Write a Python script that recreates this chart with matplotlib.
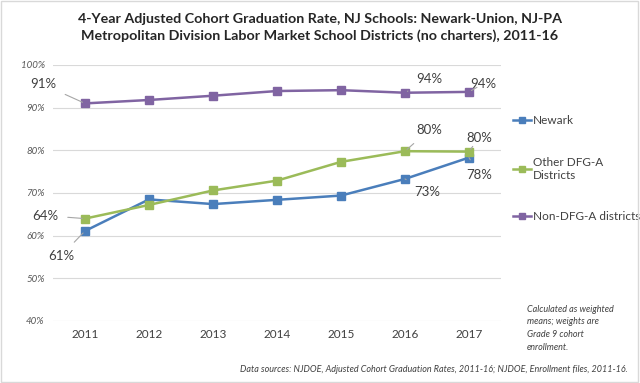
import matplotlib.pyplot as plt
from matplotlib.patches import Rectangle

# --- DATA ---
years = [2011, 2012, 2013, 2014, 2015, 2016, 2017]
newark = [61.1, 68.5, 67.4, 68.4, 69.4, 73.3, 78.3]
other_dfg_a = [64.0, 67.2, 70.6, 72.9, 77.3, 79.8, 79.7]
non_dfg_a = [91.0, 91.8, 92.8, 93.9, 94.1, 93.5, 93.7]

series_names = ['Newark', 'Other DFG-A\nDistricts', 'Non-DFG-A districts']
series_values = [newark, other_dfg_a, non_dfg_a]
colors = ['#4A7EBB', '#9BBB59', '#8064A2']

# labelled points: (series index, year index, text, offset in pixels)
labels = [
    (2, 0, '91%', (-42, 19)),
    (1, 0, '64%', (-40, 3)),
    (0, 0, '61%', (-24, -25)),
    (2, 5, '94%', (24, 14)),
    (2, 6, '94%', (14, 8)),
    (1, 5, '80%', (24, 21)),
    (1, 6, '80%', (10, 14)),
    (0, 5, '73%', (22, -13)),
    (0, 6, '78%', (10, -17)),
]

plt.rcParams['font.family'] = ['Lato', 'DejaVu Sans']

fig = plt.figure(figsize=(6.4, 3.83), dpi=100)
ax = fig.add_axes([53 / 640, 1 - 321 / 383, 448 / 640, 256 / 383])

for name, vals, c in zip(series_names, series_values, colors):
    ax.plot(years, vals, color=c, lw=1.8, marker='s', markersize=6, label=name)

for si, yi, txt, off in labels:
    ax.annotate(txt, (years[yi], series_values[si][yi]), xytext=off,
                textcoords='offset pixels', fontsize=9.5, color='#404040',
                ha='center', va='center',
                arrowprops=dict(arrowstyle='-', color='#a6a6a6', lw=0.8,
                                shrinkA=5, shrinkB=2))

ax.set_xlim(2010.5, 2017.5)
ax.set_ylim(40, 100)
ax.set_xticks(years)
ax.set_xticklabels([str(y) for y in years], fontsize=8.5, color='#404040')
ax.set_yticks(range(40, 101, 10))
ax.set_yticklabels([f'{v}%' for v in range(40, 101, 10)], fontsize=7,
                   style='italic', color='#595959')
ax.tick_params(length=0, pad=6)
ax.grid(axis='y', color='#d9d9d9', lw=0.8)
ax.set_axisbelow(True)
for s in ax.spines.values():
    s.set_visible(False)

ax.legend(loc='center left', bbox_to_anchor=(1.0, 0.595), frameon=False,
          fontsize=8.5, handlelength=1.5, handletextpad=0.2, labelspacing=2.6,
          borderpad=0, borderaxespad=1.0,
          labelcolor='#404040', markerscale=0.8)

fig.text(0.5, 0.965, '4-Year Adjusted Cohort Graduation Rate, NJ Schools: Newark-Union, NJ-PA\n'
         'Metropolitan Division Labor Market School Districts (no charters), 2011-16',
         ha='center', va='top', fontsize=10.3, fontweight='bold', color='#262626',
         linespacing=1.4)

fig.text(527 / 640, 1 - 305 / 383, 'Calculated as weighted\nmeans; weights are\nGrade 9 cohort\nenrollment.',
         ha='left', va='top', fontsize=6.5, style='italic', color='#404040', linespacing=1.5)
fig.text(628 / 640, 1 - 370 / 383,
         'Data sources: NJDOE, Adjusted Cohort Graduation Rates, 2011-16; NJDOE, Enrollment files, 2011-16.',
         ha='right', va='center', fontsize=6.5, style='italic', color='#404040')

fig.patches.append(Rectangle((0.002, 0.003), 0.995, 0.994, transform=fig.transFigure,
                             fill=False, edgecolor='#d9d9d9', lw=1))

plt.savefig('out.png', dpi=100)
